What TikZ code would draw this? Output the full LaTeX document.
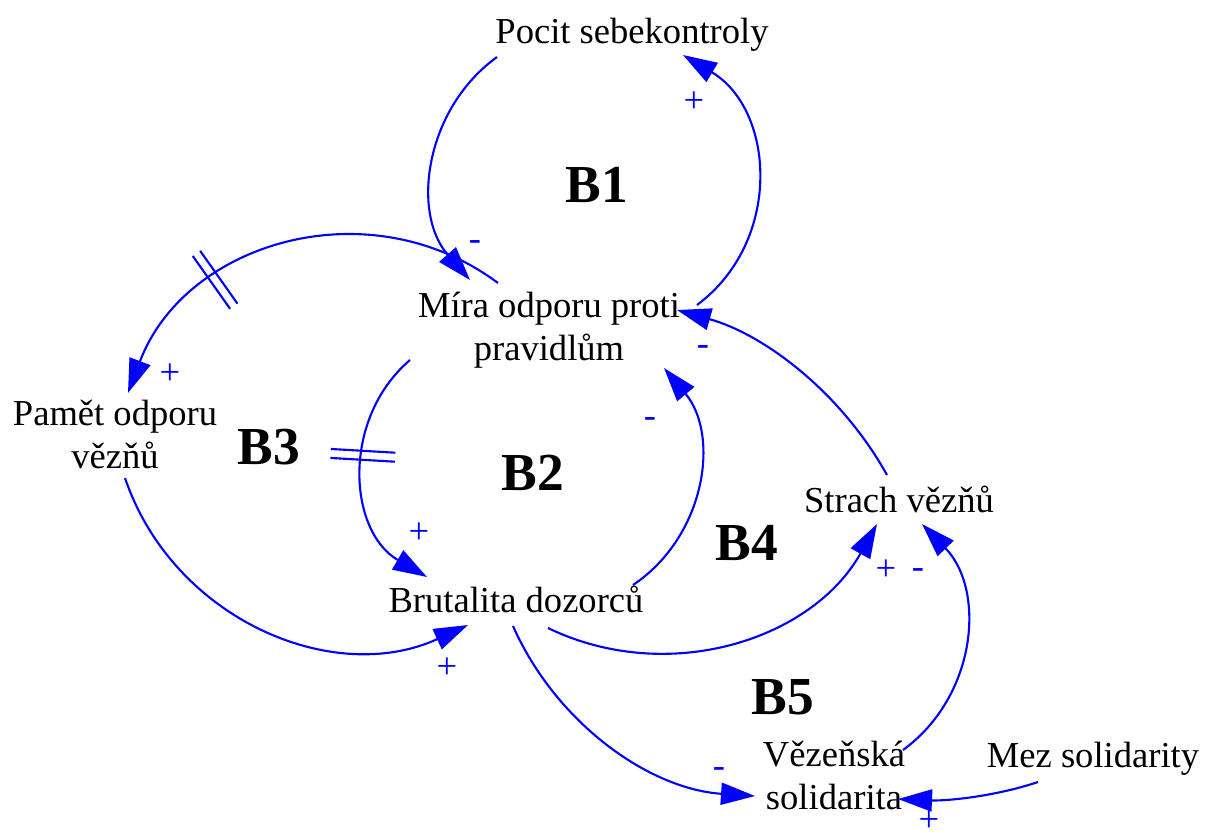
\documentclass[tikz,border=0pt]{standalone}
\usepackage{fontspec}
\setmainfont{Liberation Serif}
\usetikzlibrary{arrows.meta,decorations.markings}

\begin{document}
\begin{tikzpicture}[x=0.025cm, y=-0.025cm, line width=1.5pt,
var node/.style={align=center, anchor=base, inner sep=0pt},
loop node/.style={font=\fontsize{38}{40}\selectfont\bfseries, inner sep=0pt},
sign/.style={text=blue, inner sep=0pt},
link/.style={draw=blue, -{Triangle[length=0.85cm,width=0.55cm]}},
delay at/.style={postaction={decorate, decoration={markings, mark=at position #1 with {\draw[blue,-] (-3.2pt,-23pt) -- (-3.2pt,23pt) (3.2pt,-23pt) -- (3.2pt,23pt);}}}}]
\useasboundingbox (0,0) rectangle (1205,838);
% base of a two-line node = baseline of its last line
\begin{scope}[every node/.style={font=\fontsize{26}{30.5}\selectfont}]
\node[var node] (pocit) at (632,43) {Pocit sebekontroly};
\node[var node] (mira) at (549,360) {Míra odporu proti\\pravidlům};
\node[var node] (pamet) at (115,468) {Pamět odporu\\vězňů};
\node[var node] (brutalita) at (516,612) {Brutalita dozorců};
\node[var node] (strach) at (899,512) {Strach vězňů};
\node[var node] (solidarita) at (834,809) {Vězeňská\\solidarita};
\node[var node] (mez) at (1093,767) {Mez solidarity};

\node[sign] (s1) at (475,246) {-};
\node[sign] (s2) at (694,102) {+};
\node[sign] (s3) at (170,374) {+};
\node[sign] (s4) at (419,533) {+};
\node[sign] (s5) at (650,422) {-};
\node[sign] (s6) at (447,668) {+};
\node[sign] (s7) at (886,570) {+};
\node[sign] (s8) at (703,350) {-};
\node[sign] (s9) at (918,573) {-};
\node[sign] (s10) at (719,772) {-};
\node[sign] (s11) at (929,821) {+};
\end{scope}
\begin{scope}[every node/.style={loop node}]
\node (b1) at (597,185) {B1};
\node (b2) at (533,473) {B2};
\node (b3) at (269,447) {B3};
\node (b4) at (747,543) {B4};
\node (b5) at (783,697) {B5};
\end{scope}
\begin{scope}
\draw[link] ([shift={(-135,14)}]pocit.base) .. controls +(-72,52) and +(-59,-67) .. ([shift={(-79,-80)}]mira.base);
\draw[link] ([shift={(148,-55)}]mira.base) .. controls +(86,-64) and +(92,55) .. ([shift={(51,12)}]pocit.base);
\draw[link, delay at=0.676] ([shift={(-51,-77)}]mira.base) .. controls +(-129,-96) and +(57,-151) .. ([shift={(13,-75)}]pamet.base);
\draw[link, delay at=0.43] ([shift={(-139,0)}]mira.base) .. controls +(-69,59) and +(-79,-46) .. ([shift={(-89,-35)}]brutalita.base);
\draw[link] ([shift={(117,-27)}]brutalita.base) .. controls +(73,-49) and +(56,67) .. ([shift={(115,8)}]mira.base);
\draw[link] ([shift={(10,10)}]pamet.base) .. controls +(48,141) and +(-135,62) .. ([shift={(-48,13)}]brutalita.base);
\draw[link] ([shift={(32,16)}]brutalita.base) .. controls +(120,58) and +(-65,116) .. ([shift={(-22,12)}]strach.base);
\draw[link] ([shift={(-12,-37)}]strach.base) .. controls +(-45,-81) and +(89,25) .. ([shift={(128,-50)}]mira.base);
\draw[link] ([shift={(-3,14)}]brutalita.base) .. controls +(43,97) and +(-106,-7) .. ([shift={(-79,-13)}]solidarita.base);
\draw[link] ([shift={(69,-59)}]solidarita.base) .. controls +(74,-54) and +(64,66) .. ([shift={(23,12)}]strach.base);
\draw[link] ([shift={(-55,15)}]mez.base) .. controls +(-45,15) and +(47,2) .. ([shift={(64,-10)}]solidarita.base);
\end{scope}
\end{tikzpicture}
\end{document}
